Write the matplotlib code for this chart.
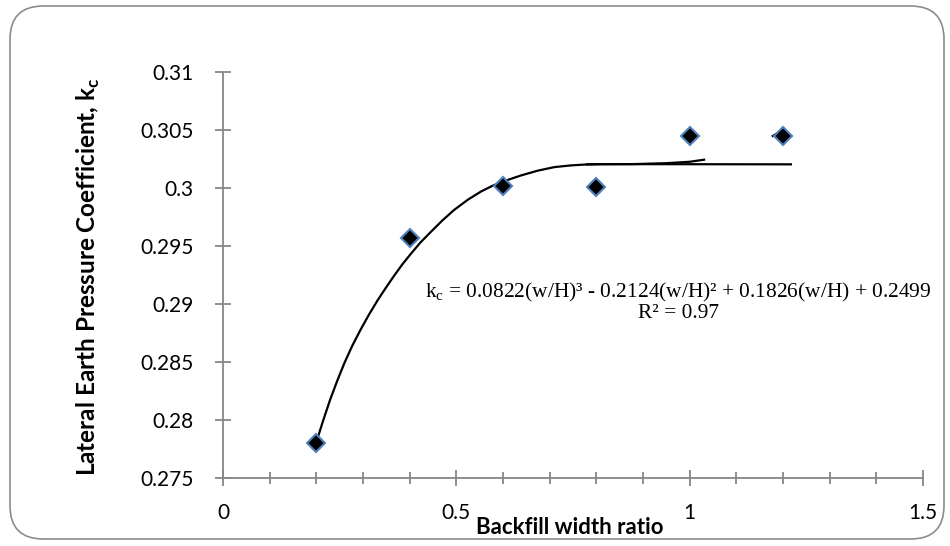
import matplotlib
matplotlib.use("Agg")
import matplotlib.pyplot as plt
from matplotlib.patches import FancyBboxPatch
from matplotlib.ticker import MultipleLocator

# measured points
ratio = [0.2, 0.4, 0.6, 0.8, 1.0, 1.2]
kc = [0.2780, 0.2957, 0.3002, 0.3001, 0.3045, 0.3045]

# trend curve as drawn
fit_x = [0.200, 0.215, 0.230, 0.245, 0.260, 0.277, 0.295, 0.313, 0.331,
         0.349, 0.366, 0.384, 0.402, 0.423, 0.445, 0.470, 0.495, 0.525,
         0.553, 0.578, 0.603, 0.640, 0.675, 0.710, 0.746, 0.780, 0.811, 1.217]
fit_y = [0.2781, 0.2800, 0.2818, 0.2834, 0.2849, 0.2864, 0.2878, 0.2891,
         0.2903, 0.2914, 0.2924, 0.2934, 0.2943, 0.2953, 0.2962, 0.2972,
         0.2981, 0.2990, 0.2997, 0.3002, 0.3006, 0.3011, 0.3015, 0.3018,
         0.30195, 0.30203, 0.30206, 0.30204]
# stray bits of a second trend line
stray_x = [0.78, 0.88, 0.95, 1.00, 1.031]
stray_y = [0.30204, 0.30206, 0.30214, 0.30226, 0.30244]
stub_x = [1.178, 1.190, 1.201]
stub_y = [0.30448, 0.30478, 0.30490]

y_ticks = [0.275, 0.28, 0.285, 0.29, 0.295, 0.3, 0.305, 0.31]
y_labels = ['0.275', '0.28', '0.285', '0.29', '0.295', '0.3', '0.305', '0.31']
x_ticks = [0, 0.5, 1, 1.5]
x_labels = ['0', '0.5', '1', '1.5']

eq_text = "k$_\\mathregular{c}$ = 0.0822(w/H)³ - 0.2124(w/H)² + 0.1826(w/H) + 0.2499\nR² = 0.97"

plt.rcParams['font.family'] = ['Lato', 'DejaVu Sans']
axis_grey = '#868686'

fig = plt.figure(figsize=(9.5, 5.46), dpi=100)

# rounded chart border
border = FancyBboxPatch((10 / 950, 7 / 546), 934 / 950, 533 / 546,
                        boxstyle="round,pad=0,rounding_size=0.035",
                        transform=fig.transFigure, facecolor='none',
                        edgecolor='#8c8c8c', linewidth=1.2, zorder=-10,
                        mutation_aspect=950 / 546)
fig.patches.append(border)

ax = fig.add_axes([223 / 950, 1 - 478 / 546, 700 / 950, 406 / 546])
ax.patch.set_alpha(0)

ax.plot(fit_x, fit_y, color='black', lw=1.6, zorder=2)
ax.plot(stray_x, stray_y, color='black', lw=1.6, zorder=2)
ax.plot(stub_x, stub_y, color='black', lw=1.6, zorder=2)
ax.plot(ratio, kc, linestyle='none', marker='D', markersize=9.5,
        markerfacecolor='black', markeredgecolor='#4f81bd',
        markeredgewidth=1.5, zorder=3)

ax.set_xlim(0, 1.5)
ax.set_ylim(0.275, 0.31)
ax.xaxis.set_minor_locator(MultipleLocator(0.1))
ax.set_yticks(y_ticks)
ax.set_yticklabels(y_labels)
ax.set_xticks(x_ticks)
ax.set_xticklabels(x_labels)

for s in ['top', 'right']:
    ax.spines[s].set_visible(False)
for s in ['left', 'bottom']:
    ax.spines[s].set_color(axis_grey)
    ax.spines[s].set_linewidth(1.3)

ax.tick_params(axis='both', which='major', direction='inout', length=12,
               width=1.3, color=axis_grey, labelsize=15, labelcolor='black')
ax.tick_params(axis='x', which='minor', direction='inout', length=8,
               width=1.3, color=axis_grey)
ax.tick_params(axis='y', pad=15)
ax.tick_params(axis='x', pad=12)

fig.text(570 / 950, 1 - 527 / 546, 'Backfill width ratio', fontsize=16,
         fontweight='bold', ha='center', va='center')
fig.text(88 / 950, 1 - 277 / 546,
         'Lateral Earth Pressure Coefficient, k$_\\mathregular{c}$',
         fontsize=17.5, fontweight='bold', rotation=90, ha='center', va='center')

ax.text(0.976, 0.2902, eq_text, family=['Liberation Serif', 'DejaVu Serif'],
        fontsize=15.4, ha='center', va='center', linespacing=1.0)

fig.savefig('out.png', dpi=100)
